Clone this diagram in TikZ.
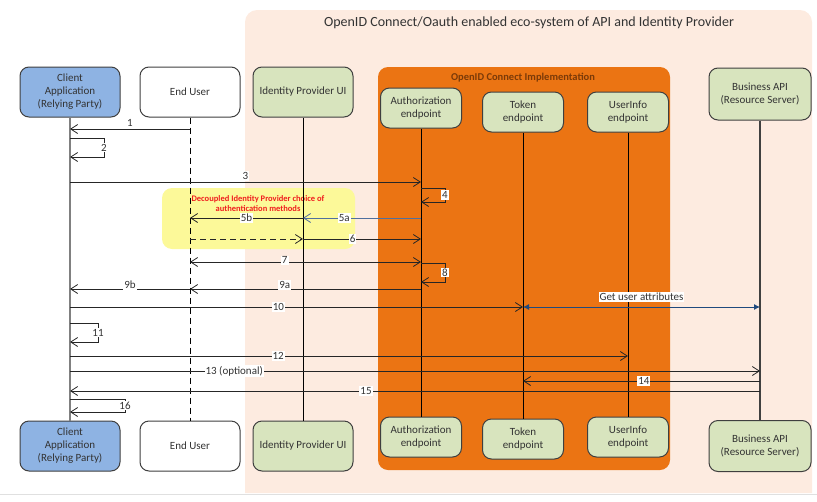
\documentclass[tikz,border=0pt]{standalone}
\usepackage{fontspec}
\setmainfont{Carlito}
\usepackage{xcolor}
\usepackage{tikz}
\usetikzlibrary{arrows.meta,positioning,calc}
\definecolor{peach}{HTML}{FDEBE0}
\definecolor{impl}{HTML}{EB7413}
\definecolor{impltxt}{HTML}{7B3A08}
\definecolor{leaf}{HTML}{D8E4BE}
\definecolor{client}{HTML}{8EB3E3}
\definecolor{note}{HTML}{FCF999}
\definecolor{notetxt}{HTML}{F01E1E}
\definecolor{frame}{HTML}{3F3F3F}
\definecolor{query}{HTML}{1F4A7E}
\definecolor{relay}{HTML}{50709E}

\begin{document}
\begin{tikzpicture}[
  x=1pt, y=-1pt,
  font=\fontsize{11}{13}\selectfont,
  actor/.style ={draw=frame, line width=1pt, rounded corners=9pt, text=black!80,
                 minimum width=100pt, minimum height=50pt, inner sep=2pt, align=center},
  ept/.style   ={actor, fill=leaf, minimum width=81pt, minimum height=40pt},
  life/.style  ={draw=black, line width=0.9pt},
  msg/.style   ={draw=black!85, line width=0.8pt, -{Straight Barb[length=7pt,width=9pt]}},
  lbl/.style   ={fill=white, inner sep=1pt, text=black!80}
]
\useasboundingbox (0,0) rectangle (817,501);

% =============== eco-system ===============
\fill[peach] (245,493) [rounded corners=12pt] -- (245,10) -- (812,10)
  [sharp corners] -- (812,493) -- cycle;
\draw[black!12, line width=1pt] (0,494) -- (817,494);
\node[font=\fontsize{14}{16}\selectfont, text=black!80] (eco) at (529,23)
  {OpenID Connect/Oauth enabled eco-system of API and Identity Provider};

\node[fill=impl, rounded corners=10pt, minimum width=292pt, minimum height=403pt,
      inner sep=0pt] (impl) at (524,268.5) {};
\node[text=impltxt, font=\fontsize{10.5}{12}\selectfont\bfseries] (impltitle) at (523,78)
  {OpenID Connect Implementation};

\node[fill=note, rounded corners=10pt, minimum width=193pt, minimum height=61pt,
      inner sep=0pt] (note) at (258.5,218.5) {};
\node[text=notetxt, font=\fontsize{8.5}{10}\selectfont\bfseries, align=center] (notetxt)
  at (258,204) {Decoupled Identity Provider choice of\\authentication methods};

% =============== participants ===============
\node[actor, fill=client] (cl)  at (70,92)   {Client\\Application\\(Relying Party)};
\node[actor, fill=white]  (eu)  at (190,92)  {End User};
\node[actor, fill=leaf]   (idp) at (303,92)  {Identity Provider UI};
\node[ept]                (az)  at (421,108) {Authorization\\endpoint};
\node[ept]                (tk)  at (523,112) {Token\\endpoint};
\node[ept]                (ui)  at (628,112) {UserInfo\\endpoint};
\node[actor, fill=leaf, minimum width=102pt, minimum height=52pt]
                          (api) at (760,94)  {Business API\\(Resource Server)};

\node[actor, fill=client] (cl2)  at (70,446)  {Client\\Application\\(Relying Party)};
\node[actor, fill=white]  (eu2)  at (190,446) {End User};
\node[actor, fill=leaf]   (idp2) at (303,446) {Identity Provider UI};
\node[ept]                (az2)  at (421,437) {Authorization\\endpoint};
\node[ept]                (tk2)  at (523,439) {Token\\endpoint};
\node[ept]                (ui2)  at (628,437) {UserInfo\\endpoint};
\node[actor, fill=leaf, minimum width=102pt, minimum height=51pt]
                          (api2) at (760,446) {Business API\\(Resource Server)};

% lifelines run box to box
\draw[draw=black!50, line width=2pt] (cl.south) -- (cl2.north);
\draw[life, dash pattern=on 6pt off 4pt] (eu.south) -- (eu2.north);
\draw[life] (idp.south) -- (idp2.north);
\draw[life] (az.south) -- (az2.north);
\draw[life] (tk.south) -- (tk2.north);
\draw[life] (ui.south) -- (ui2.north);
\draw[life, draw=black!75, line width=1.4pt] (api.south) -- (api2.north);

% =============== messages ===============
\draw[msg] (eu |- 0,129) -- node[lbl, above=1pt]{1} (cl |- 0,129);
\draw[msg] (cl |- 0,138) -- ++(34,0) -- node[lbl]{2} ++(0,19) -- (cl |- 0,157);
\draw[msg] (cl |- 0,182) -- node[lbl, above=1pt]{3} (az |- 0,182);
\draw[msg] (az |- 0,188) -- ++(24,0) -- node[lbl]{4} ++(0,14) -- (az |- 0,202);

\draw[msg, draw=relay] (az |- 0,218) -- node[lbl, pos=0.65]{5a} (idp |- 0,218);
\draw[msg] (idp |- 0,218) -- node[lbl]{5b} (eu |- 0,218);
\draw[msg, dash pattern=on 6pt off 4pt] (eu |- 0,239) -- (idp |- 0,239);
\draw[msg] (idp |- 0,239) -- node[lbl, pos=0.42]{6} (az |- 0,239);

\draw[msg, {Straight Barb[length=7pt,width=9pt]}-{Straight Barb[length=7pt,width=9pt]}]
  (eu |- 0,262) -- node[lbl, pos=0.41, above=-3pt]{7} (az |- 0,262);
\draw[msg] (az |- 0,263) -- ++(24,0) -- node[lbl]{8} ++(0,19) -- (az |- 0,282);

\draw[msg] (az |- 0,289) -- node[lbl, pos=0.59, above=-1pt]{9a} (eu |- 0,289);
\draw[msg] (eu |- 0,289) -- node[lbl, above=-1pt]{9b} (cl |- 0,289);

\draw[msg] (cl |- 0,307) -- node[lbl, pos=0.46]{10} (tk |- 0,307);
\draw[draw=query, line width=0.8pt, {Latex[length=6pt,width=6pt]}-{Latex[length=6pt,width=6pt]}]
  (tk |- 0,307) -- node[lbl, above=5pt]{Get user attributes} (api |- 0,307);

\draw[msg] (cl |- 0,323) -- ++(28,0) -- node[lbl]{11} ++(0,19) -- (cl |- 0,342);
\draw[msg] (cl |- 0,356) -- node[lbl, pos=0.373]{12} (ui |- 0,356);
\draw[msg] (cl |- 0,371) -- node[lbl, pos=0.238]{13 (optional)} (api |- 0,371);
\draw[msg] (api |- 0,381) -- node[lbl, pos=0.49]{14} (tk |- 0,381);
\draw[msg] (api |- 0,391) -- node[lbl, pos=0.571]{15} (cl |- 0,391);
\draw[msg] (cl |- 0,399) -- ++(55,0) -- node[lbl]{16} ++(0,13) -- (cl |- 0,412);
\end{tikzpicture}
\end{document}
